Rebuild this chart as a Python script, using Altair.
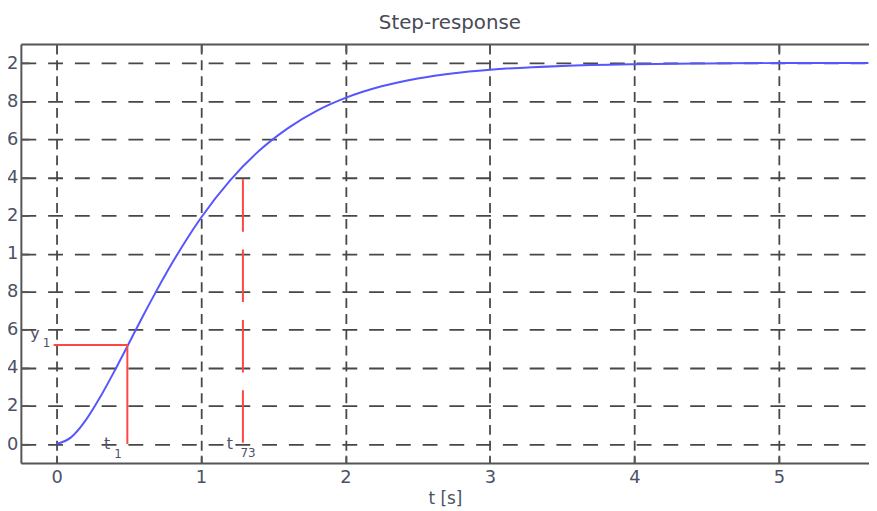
import altair as alt
import pandas as pd

# ---- data ----
t_vals = [0.0, 0.1, 0.2, 0.3, 0.4, 0.5, 0.6, 0.7, 0.8, 0.9, 1.0, 1.2, 1.4, 1.6, 1.8,
          2.0, 2.25, 2.5, 2.75, 3.0, 3.5, 4.0, 4.5, 5.0, 5.62]
y_vals = [0.0, 0.035, 0.123, 0.244, 0.382, 0.528, 0.675, 0.816, 0.950, 1.074, 1.188,
          1.383, 1.538, 1.657, 1.749, 1.817, 1.878, 1.919, 1.947, 1.965, 1.985, 1.994,
          1.998, 2.0, 2.0]

x_ticks = [0, 1, 2, 3, 4, 5]
y_ticks = [0, 0.2, 0.4, 0.6, 0.8, 1, 1.2, 1.4, 1.6, 1.8, 2]

t1, y1 = 0.49, 0.52      # point marked by the solid red lines
t73, y73 = 1.29, 1.39    # dashed red marker

# annotation texts (main letter, subscript)
ann_main_text = ["y", "t", "t"]
ann_main_x = [-0.15, 0.35, 1.2]
ann_main_y = [0.58, 0.0, 0.0]
ann_sub_text = ["1", "1", "73"]
ann_sub_x = [-0.07, 0.425, 1.325]
ann_sub_y = [0.53, -0.05, -0.047]

x_domain = [-0.247, 5.624]
y_domain = [-0.1, 2.1]

W, H = 856, 423
FONT = "DejaVu Sans"
TXT = "#4c5266"
GRID = "#474747"
AX = "#555555"

curve = pd.DataFrame({"t": t_vals, "y": y_vals})
solid = pd.DataFrame({"x": [-0.02, t1], "y": [y1, 0.0], "x2": [t1, t1], "y2": [y1, y1]})
dashed = pd.DataFrame({"x": [t73], "y": [y73], "x2": [t73], "y2": [0.0]})
main_txt = pd.DataFrame({"x": ann_main_x, "y": ann_main_y, "text": ann_main_text})
sub_txt = pd.DataFrame({"x": ann_sub_x, "y": ann_sub_y, "text": ann_sub_text})

xs = alt.Scale(domain=x_domain, nice=False, zero=False)
ys = alt.Scale(domain=y_domain, nice=False, zero=False)

x_main_axis = alt.Axis(values=x_ticks, grid=True, gridDash=[10, 6], gridColor=GRID,
                       gridWidth=1.8, gridOpacity=1, ticks=False, domain=True,
                       domainColor=AX, domainWidth=2, labelFont=FONT, labelFontSize=18,
                       labelColor=TXT, labelPadding=6, labelFlush=False, title="t [s]",
                       titleFont=FONT, titleFontSize=17, titleFontWeight="normal",
                       titleColor=TXT, titlePadding=4)
y_main_axis = alt.Axis(values=y_ticks, format="~g", grid=True, gridDash=[15, 12],
                       gridColor=GRID, gridWidth=1.8, gridOpacity=1, ticks=False,
                       domain=True, domainColor=AX, domainWidth=2, labelFont=FONT,
                       labelFontSize=18, labelColor=TXT, labelPadding=3, labelFlush=False,
                       title=None)

line = alt.Chart(curve).mark_line(color="#5656ff", strokeWidth=2,
                                  interpolate="monotone").encode(
    x=alt.X("t:Q", scale=xs, axis=x_main_axis),
    y=alt.Y("y:Q", scale=ys, axis=y_main_axis),
)

red_solid = alt.Chart(solid).mark_rule(color="#ff4646", strokeWidth=2).encode(
    x=alt.X("x:Q", scale=xs, axis=alt.Axis(orient="top", labels=False, ticks=False,
                                             grid=False, domain=True, domainColor=AX,
                                             domainWidth=2, title=None)),
    y=alt.Y("y:Q", scale=ys, axis=alt.Axis(orient="right", offset=-W, values=y_ticks,
                                             labels=False, ticks=True, tickSize=8,
                                             tickColor=AX, tickWidth=1.8, grid=False,
                                             domain=False, title=None)),
    x2="x2:Q", y2="y2:Q",
)

red_dash = alt.Chart(dashed).mark_rule(color="#ff4646", strokeWidth=2,
                                       strokeDash=[53, 18]).encode(
    x=alt.X("x:Q", scale=xs, axis=alt.Axis(orient="top", offset=-H, values=x_ticks,
                                             labels=False, ticks=True, tickSize=8,
                                             tickColor=AX, tickWidth=1.8, grid=False,
                                             domain=False, title=None)),
    y=alt.Y("y:Q", scale=ys, axis=None),
    x2="x2:Q", y2="y2:Q",
)

txt_main = alt.Chart(main_txt).mark_text(font=FONT, fontSize=16, color="#505066").encode(
    x=alt.X("x:Q", scale=xs, axis=alt.Axis(orient="bottom", offset=-H, values=x_ticks,
                                             labels=False, ticks=True, tickSize=8,
                                             tickColor=AX, tickWidth=1.8, grid=False,
                                             domain=False, title=None)),
    y=alt.Y("y:Q", scale=ys, axis=None),
    text="text:N",
)

txt_sub = alt.Chart(sub_txt).mark_text(font=FONT, fontSize=12, color="#505066").encode(
    x=alt.X("x:Q", scale=xs, axis=None),
    y=alt.Y("y:Q", scale=ys, axis=None),
    text="text:N",
)

chart = alt.layer(line, red_solid, red_dash, txt_main, txt_sub).resolve_axis(
    x="independent", y="independent"
).properties(
    width=W, height=H,
    autosize=alt.AutoSizeParams(type="none"),
    padding={"left": 13, "top": 34, "right": 0, "bottom": 46},
    title=alt.TitleParams("Step-response", font=FONT, fontSize=20, fontWeight="normal",
                          color="#4a4a55", offset=10, dx=5),
    background="white",
).configure_view(stroke=None)

chart.save("out.html", embed_options={"renderer": "svg", "actions": False})
